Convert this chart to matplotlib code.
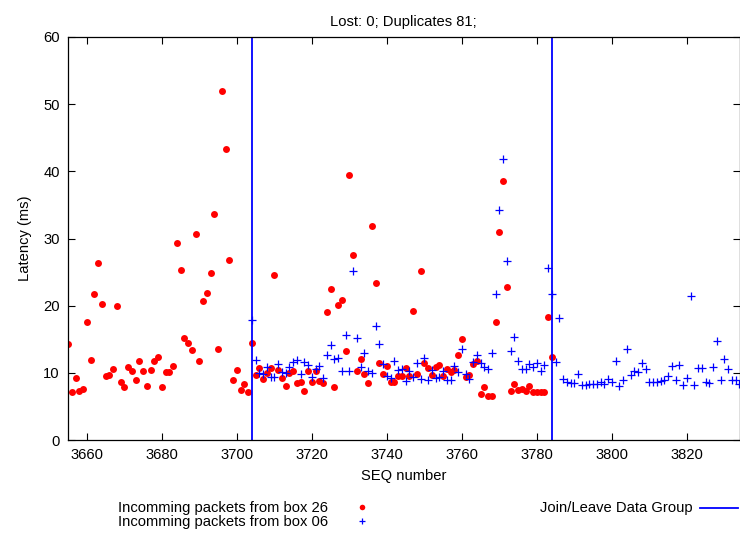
import numpy as np
import matplotlib
matplotlib.use("Agg")
import matplotlib.pyplot as plt
from matplotlib.lines import Line2D

plt.rcParams['font.family'] = ['Liberation Sans', 'DejaVu Sans']
plt.rcParams['font.size'] = 10.6

# latency per sequence number, box 26 (3655..3784)
seq_26 = np.arange(3655, 3785)
lat_26 = [
    14.3, 7.1, 9.3, 7.3, 7.6, 17.5, 11.9, 21.7, 26.3, 20.3,
    9.5, 9.7, 10.6, 19.9, 8.7, 7.9, 10.8, 10.3, 8.9, 11.8,
    10.3, 8.1, 10.4, 11.7, 12.3, 7.9, 10.1, 10.1, 11.0, 29.4,
    25.3, 15.2, 14.5, 13.4, 30.7, 11.8, 20.7, 21.9, 24.9, 33.6,
    13.6, 52.0, 43.3, 26.8, 8.9, 10.4, 7.5, 8.3, 7.2, 14.5,
    9.7, 10.7, 9.1, 10.0, 10.7, 24.6, 10.4, 9.3, 8.1, 10.0,
    10.2, 8.5, 8.6, 7.3, 10.3, 8.7, 10.3, 8.8, 8.5, 19.1,
    22.5, 7.9, 20.1, 20.9, 13.3, 39.4, 27.6, 10.2, 12.1, 9.9,
    8.5, 31.8, 23.4, 11.4, 9.8, 11.0, 8.7, 8.7, 9.6, 9.6,
    10.7, 9.6, 19.2, 9.9, 25.1, 11.4, 10.7, 9.7, 10.8, 11.1,
    9.6, 10.6, 10.1, 10.4, 12.6, 15.1, 9.4, 9.7, 11.3, 11.8,
    6.8, 7.9, 6.6, 6.6, 17.6, 30.9, 38.5, 22.8, 7.3, 8.3,
    7.4, 7.6, 7.3, 8.0, 7.2, 7.1, 7.1, 7.1, 18.3, 12.3,
]

# latency per sequence number, box 06 (3704..3834)
seq_06 = np.arange(3704, 3835)
lat_06 = [
    17.8, 11.9, 10.0, 9.8, 10.9, 9.4, 9.4, 11.3, 10.1, 10.0,
    10.8, 11.6, 11.9, 9.8, 11.6, 11.1, 9.4, 10.5, 11.0, 9.2,
    12.6, 14.2, 12.0, 12.2, 10.2, 15.6, 10.3, 25.2, 15.2, 10.9,
    13.0, 10.2, 10.0, 17.0, 14.3, 11.3, 9.6, 9.2, 11.8, 10.4,
    10.6, 8.8, 10.2, 9.4, 11.5, 9.1, 12.2, 9.0, 10.4, 9.2,
    9.4, 10.3, 9.0, 9.0, 11.0, 10.1, 13.6, 9.9, 9.1, 11.6,
    12.6, 11.4, 10.9, 10.6, 13.0, 21.7, 34.3, 41.8, 26.6, 13.2,
    15.3, 11.7, 10.6, 10.6, 11.3, 10.8, 11.5, 10.3, 11.2, 25.6,
    21.8, 11.6, 18.1, 9.1, 8.6, 8.5, 8.5, 9.8, 8.2, 8.2,
    8.3, 8.4, 8.4, 8.6, 8.4, 9.1, 8.6, 11.7, 8.0, 8.9,
    13.6, 9.7, 10.3, 10.1, 11.4, 10.5, 8.6, 8.6, 8.6, 8.8,
    9.0, 9.6, 11.0, 9.0, 11.1, 8.2, 9.3, 21.4, 8.2, 10.7,
    10.7, 8.7, 8.5, 10.8, 14.8, 9.0, 12.1, 10.6, 9.0, 9.0,
    8.4,
]

join_leave = [3704, 3784]

label_26 = "Incomming packets from box 26"
label_06 = "Incomming packets from box 06"
label_jl = "Join/Leave Data Group"

W, H = 740, 533
fig = plt.figure(figsize=(W / 100, H / 100), dpi=100)
ax = fig.add_axes([68 / W, 1 - 440 / H, (739.5 - 68) / W, (440 - 37) / H])

ax.plot(seq_26, lat_26, linestyle='none', marker='o', ms=5, mew=0,
        color='#ff0000')
ax.plot(seq_06, lat_06, linestyle='none', marker='+', ms=6, mew=0.9,
        color='#0000ff')
for x in join_leave:
    ax.axvline(x, color='#0000ff', lw=1.3)

ax.set_xlim(3655, 3834)
ax.set_ylim(0, 60)
ax.set_xticks(np.arange(3660, 3821, 20))
ax.set_yticks(np.arange(0, 61, 10))
ax.tick_params(direction='in', length=5, width=0.8, top=True, right=True,
               labelsize=10.6, pad=6)
for s in ax.spines.values():
    s.set_linewidth(0.9)

ax.set_xlabel("SEQ number", labelpad=5)
ax.set_ylabel("Latency (ms)", labelpad=8)
ax.set_title("Lost: 0; Duplicates 81;", fontsize=10.6, pad=8)

# key underneath the plot, gnuplot style
fig.text(328 / W, 1 - 508 / H, label_26, ha='right', va='center')
fig.text(328 / W, 1 - 522 / H, label_06, ha='right', va='center')
fig.add_artist(Line2D([362 / W], [1 - 507 / H], transform=fig.transFigure,
                      marker='o', ms=4, mew=0, color='#ff0000'))
fig.add_artist(Line2D([362 / W], [1 - 521 / H], transform=fig.transFigure,
                      marker='+', ms=5, mew=0.9, color='#0000ff'))
fig.text(693 / W, 1 - 508 / H, label_jl, ha='right', va='center')
fig.add_artist(Line2D([700 / W, 738 / W], [1 - 508 / H, 1 - 508 / H],
                      transform=fig.transFigure, color='#0000ff', lw=1.3))

fig.savefig("out.png", dpi=100)
